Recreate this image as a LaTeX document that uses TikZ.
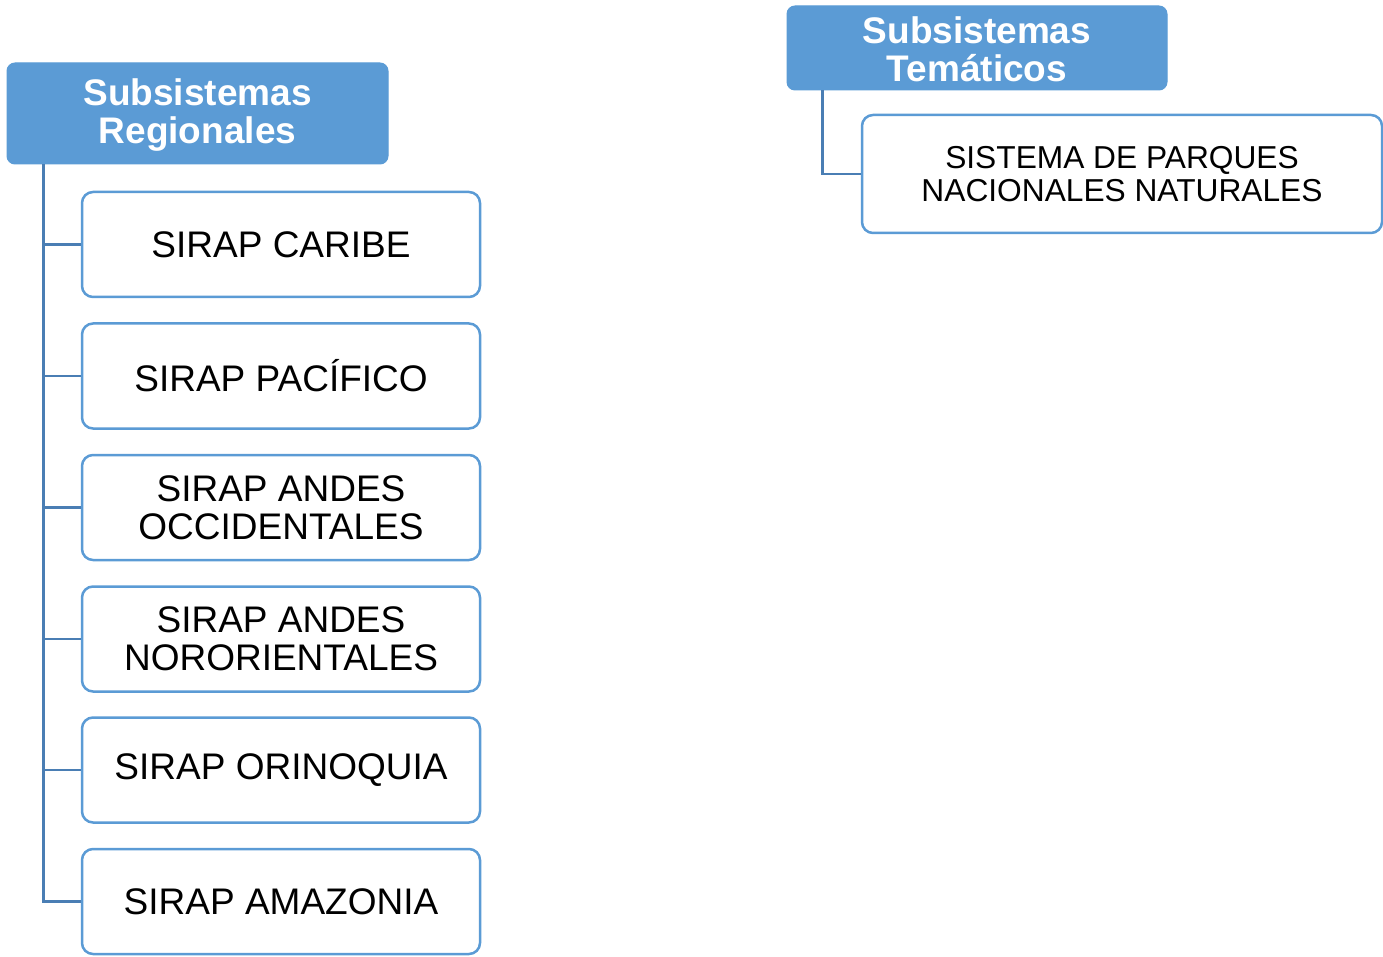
\documentclass[tikz,border=0pt]{standalone}
\usepackage{fontspec}
\setmainfont{Liberation Sans}
\usetikzlibrary{calc}
\definecolor{hdr}{HTML}{5B9BD5}
\definecolor{conn}{HTML}{4A7EB4}
\tikzset{
  header/.style={fill=hdr, draw=hdr, line width=1pt, rounded corners=8pt, text=white,
    font=\fontsize{37}{38}\selectfont\bfseries, align=center, inner sep=0pt},
  child/.style={fill=white, draw=hdr, line width=2.5pt, rounded corners=11pt, text=black,
    font=\fontsize{37}{38}\selectfont, align=center, inner sep=0pt,
    minimum width=398pt, minimum height=105pt},
  conline/.style={draw=conn, line width=2.5pt}
}
\begin{document}
\begin{tikzpicture}[x=1pt,y=-1pt]
\useasboundingbox (0,0) rectangle (1383,957);
\node[header, minimum width=381pt, minimum height=101pt] (hl) at (197.5,113.5) {};
\node[text=white, font=\fontsize{37}{38}\selectfont\bfseries, align=center, inner sep=0pt] (hlt) at (197.5,115) {Subsistemas\\Regionales};
\node[child] (c1) at (281,244.5) {SIRAP CARIBE};
\node[child] (c2) at (281,376) {SIRAP PACÍFICO};
\node[child] (c3) at (281,507.5) {SIRAP ANDES\\OCCIDENTALES};
\node[child] (c4) at (281,639) {SIRAP ANDES\\NORORIENTALES};
\node[child] (c5) at (281,770) {SIRAP ORINOQUIA};
\node[child] (c6) at (281,901.5) {SIRAP AMAZONIA};
\coordinate (lt) at ($(hl.south west)+(37,0)$);
\foreach \i in {1,...,6} {
  \draw[conline] (lt) |- (c\i.west);
}
\node[header, minimum width=380pt, minimum height=84pt] (hr) at (977,48) {};
\node[text=white, font=\fontsize{37}{38}\selectfont\bfseries, align=center, inner sep=0pt] (hrt) at (977,49) {Subsistemas\\Temáticos};
\node[child, minimum width=520pt, minimum height=118pt, font=\fontsize{31.7}{33}\selectfont] (r1) at (1122,174) {SISTEMA DE PARQUES\\NACIONALES NATURALES};
\coordinate (rt) at ($(hr.south west)+(36,0)$);
\draw[conline] (rt) |- (r1.west);
\end{tikzpicture}
\end{document}
